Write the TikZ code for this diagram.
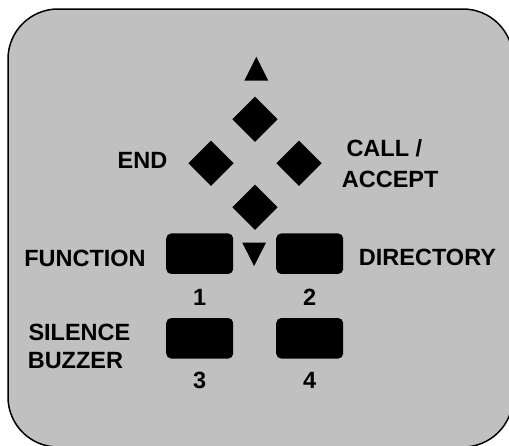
\documentclass[tikz,border=0pt]{standalone}
\usepackage{fontspec}
\setmainfont{Liberation Sans}
\usetikzlibrary{shapes.geometric}
\definecolor{panelgray}{HTML}{C0C0C0}
\tikzset{
  lbl/.style={inner sep=0pt, font=\fontsize{23.5}{28}\selectfont\bfseries, text=black},
  keybtn/.style={rectangle, fill=black, rounded corners=5pt, minimum width=67pt, minimum height=40.5pt, inner sep=0pt},
  navkey/.style={diamond, fill=black, minimum width=45.4pt, minimum height=45.4pt, inner sep=0pt, aspect=1},
  arrowtri/.style={fill=black}
}
\begin{document}
\begin{tikzpicture}[x=1pt,y=-1pt]
\useasboundingbox (0,0) rectangle (509,445);
\begin{scope}
  \clip (0,0) rectangle (509,445);
  \draw[line width=1.5pt, fill=panelgray, rounded corners=50pt] (8,9) rectangle (513,447);
\end{scope}
% navigation diamonds
\node[navkey] (up) at (255,119.3) {};
\node[navkey] (left) at (211,163.3) {};
\node[navkey] (right) at (299,163.3) {};
\node[navkey] (down) at (255,207.3) {};
% triangles
\fill[arrowtri] (244.3,80.7) -- (256.3,56.7) -- (268.3,80.7) -- cycle;
\fill[arrowtri] (242.3,242.7) -- (266,242.7) -- (254.1,266) -- cycle;
% keys
\node[keybtn] (k1) at (199.7,253.7) {};
\node[keybtn] (k2) at (309.7,253.7) {};
\node[keybtn] (k3) at (199.7,338.3) {};
\node[keybtn] (k4) at (309.7,338.3) {};
% labels
\node[lbl, anchor=base] (lend) at (142.5,168.3) {END};
\node[lbl, anchor=base west] (lcall) at (346.3,156.7) {CALL /};
\node[lbl, anchor=base west] (lacc) at (341.7,187.3) {ACCEPT};
\node[lbl, anchor=base] (lfun) at (85,266.7) {FUNCTION};
\node[lbl, anchor=base] (ldir) at (427.5,265) {DIRECTORY};
\node[lbl, anchor=base west] (lsil) at (28.3,340) {SILENCE};
\node[lbl, anchor=base west] (lbuz) at (27.6,368.3) {BUZZER};
\node[lbl, anchor=base] (n1) at (199.7,305) {1};
\node[lbl, anchor=base] (n2) at (309.7,305) {2};
\node[lbl, anchor=base] (n3) at (199.7,388.3) {3};
\node[lbl, anchor=base] (n4) at (309.7,388.3) {4};
\end{tikzpicture}
\end{document}
